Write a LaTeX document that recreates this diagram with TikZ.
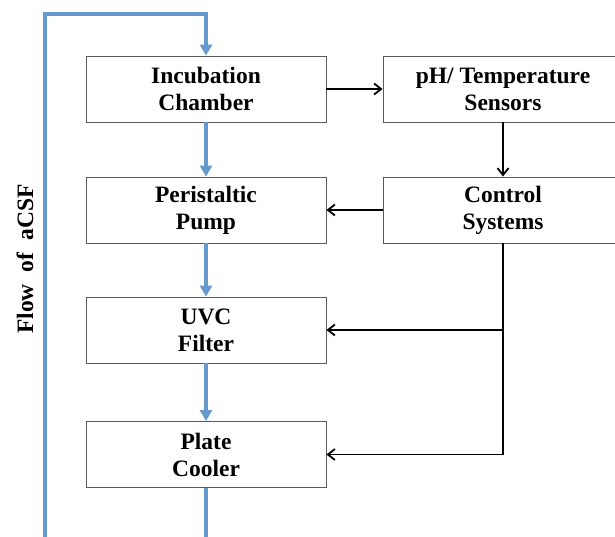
\documentclass[tikz,border=0pt]{standalone}
\usepackage{fontspec}
\setmainfont{Liberation Serif}
\usetikzlibrary{arrows.meta}
\definecolor{flowblue}{RGB}{102,153,204}
\definecolor{boxgray}{RGB}{90,90,90}
\begin{document}
\begin{tikzpicture}[x=1pt,y=-1pt,
  blk/.style={draw=boxgray,line width=0.9pt,fill=white,minimum width=240pt,minimum height=66pt,
    inner sep=0pt,align=center,font=\fontsize{23.5}{27}\selectfont\bfseries},
  flow/.style={draw=flowblue,line width=3.2pt,-{Triangle[length=11pt,width=12pt]}},
  ctl/.style={draw=black,line width=1.8pt,-{Straight Barb[length=7pt,width=11pt,line width=1.8pt]}}]
\useasboundingbox (0,0) rectangle (615,537);
\node[blk] (inc) at (206,89) {Incubation\\Chamber};
\node[blk] (sens) at (503,89) {pH/ Temperature\\Sensors};
\node[blk] (pump) at (206,210) {Peristaltic\\Pump};
\node[blk] (ctrl) at (503,210) {Control\\Systems};
\node[blk] (uvc) at (206,330) {UVC\\Filter};
\node[blk] (plate) at (206,454.5) {Plate\\Cooler};
\coordinate (bl) at (45,560);
\coordinate (tl) at (45,14);
\draw[flow] (plate.south) -- (206,560) -- (bl) -- (tl) -| (inc.north);
\draw[flow] (inc.south) -- (pump.north);
\draw[flow] (pump.south) -- (uvc.north);
\draw[flow] (uvc.south) -- (plate.north);
\draw[ctl] (inc.east) -- (sens.west);
\draw[ctl] (sens.south) -- (ctrl.north);
\draw[ctl] (ctrl.west) -- (pump.east);
\coordinate (j1) at (503,330);
\draw[ctl] (ctrl.south) |- (plate.east);
\draw[ctl] (j1) -- (uvc.east);
\node[rotate=90,font=\fontsize{23.5}{27}\selectfont\bfseries] (flowlbl) at (25,259) {Flow\hspace{12pt}of\hspace{12pt}aCSF};
\end{tikzpicture}
\end{document}
